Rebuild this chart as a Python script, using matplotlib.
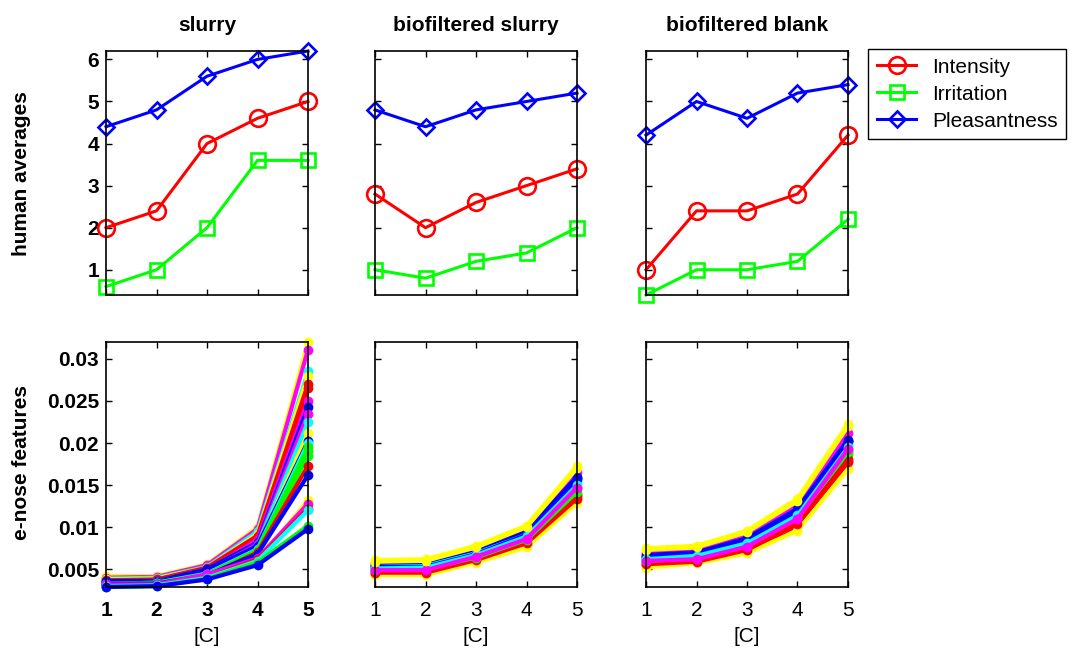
import matplotlib
matplotlib.use('Agg')
import matplotlib.pyplot as plt

plt.rcParams['font.family'] = ['Liberation Sans', 'DejaVu Sans']

# concentration steps
conc = [1, 2, 3, 4, 5]
titles = ['slurry', 'biofiltered slurry', 'biofiltered blank']

# human panel averages (top row)
intensity_slurry = [2.0, 2.4, 4.0, 4.6, 5.0]
irritation_slurry = [0.6, 1.0, 2.0, 3.6, 3.6]
pleasant_slurry = [4.4, 4.8, 5.6, 6.0, 6.2]

intensity_bslurry = [2.8, 2.0, 2.6, 3.0, 3.4]
irritation_bslurry = [1.0, 0.8, 1.2, 1.4, 2.0]
pleasant_bslurry = [4.8, 4.4, 4.8, 5.0, 5.2]

intensity_bblank = [1.0, 2.4, 2.4, 2.8, 4.2]
irritation_bblank = [0.4, 1.0, 1.0, 1.2, 2.2]
pleasant_bblank = [4.2, 5.0, 4.6, 5.2, 5.4]

# e-nose features (bottom row), one colour per feature line
colors_slurry = ['y', 'm', 'c', 'y', 'r', 'r', 'm', 'b', 'm', 'c', 'y', 'b',
                 'c', 'g', 'g', 'g', 'r', 'b', 'y', 'm', 'r', 'c', 'g', 'b']
feat_slurry = [
    [0.0042, 0.0042, 0.0056, 0.0100, 0.0320],
    [0.0040, 0.0041, 0.0055, 0.0098, 0.0311],
    [0.0039, 0.0040, 0.0053, 0.0095, 0.0285],
    [0.0038, 0.0039, 0.0052, 0.0092, 0.0280],
    [0.0037, 0.0038, 0.0052, 0.0090, 0.0270],
    [0.0036, 0.0037, 0.0050, 0.0088, 0.0265],
    [0.0035, 0.0036, 0.0049, 0.0085, 0.0250],
    [0.0036, 0.0036, 0.0050, 0.0082, 0.0243],
    [0.0034, 0.0035, 0.0047, 0.0080, 0.0235],
    [0.0034, 0.0035, 0.0046, 0.0078, 0.0225],
    [0.0033, 0.0034, 0.0045, 0.0075, 0.0212],
    [0.0035, 0.0035, 0.0048, 0.0078, 0.0202],
    [0.0033, 0.0034, 0.0045, 0.0074, 0.0200],
    [0.0033, 0.0034, 0.0044, 0.0073, 0.0195],
    [0.0032, 0.0033, 0.0044, 0.0072, 0.0190],
    [0.0032, 0.0033, 0.0043, 0.0070, 0.0185],
    [0.0031, 0.0032, 0.0042, 0.0070, 0.0173],
    [0.0033, 0.0033, 0.0043, 0.0068, 0.0162],
    [0.0029, 0.0030, 0.0038, 0.0060, 0.0132],
    [0.0032, 0.0032, 0.0044, 0.0063, 0.0128],
    [0.0030, 0.0031, 0.0040, 0.0062, 0.0122],
    [0.0030, 0.0031, 0.0040, 0.0060, 0.0120],
    [0.0029, 0.0030, 0.0039, 0.0058, 0.0102],
    [0.0029, 0.0030, 0.0038, 0.0055, 0.0098],
]

colors_bslurry = ['r', 'g', 'b', 'c', 'm', 'y', 'r', 'g', 'b',
                  'c', 'm', 'y', 'r', 'g', 'b', 'c', 'm', 'y']
feat_bslurry = [
    [0.0045, 0.0046, 0.0060, 0.0080, 0.0136],
    [0.0048, 0.0049, 0.0063, 0.0084, 0.0140],
    [0.0054, 0.0055, 0.0070, 0.0093, 0.0158],
    [0.0052, 0.0053, 0.0068, 0.0090, 0.0152],
    [0.0057, 0.0058, 0.0074, 0.0098, 0.0165],
    [0.0061, 0.0062, 0.0078, 0.0102, 0.0173],
    [0.0047, 0.0047, 0.0062, 0.0082, 0.0138],
    [0.0050, 0.0051, 0.0065, 0.0087, 0.0145],
    [0.0055, 0.0056, 0.0071, 0.0095, 0.0160],
    [0.0053, 0.0054, 0.0069, 0.0091, 0.0155],
    [0.0050, 0.0051, 0.0066, 0.0088, 0.0148],
    [0.0043, 0.0043, 0.0058, 0.0076, 0.0129],
    [0.0046, 0.0046, 0.0061, 0.0081, 0.0134],
    [0.0049, 0.0050, 0.0064, 0.0085, 0.0142],
    [0.0053, 0.0053, 0.0068, 0.0091, 0.0157],
    [0.0051, 0.0052, 0.0067, 0.0089, 0.0150],
    [0.0049, 0.0049, 0.0065, 0.0086, 0.0147],
    [0.0059, 0.0060, 0.0076, 0.0100, 0.0170],
]

colors_bblank = ['r', 'g', 'b', 'c', 'm', 'y', 'r', 'g', 'b',
                 'c', 'm', 'y', 'r', 'g', 'b', 'c', 'm', 'y']
feat_bblank = [
    [0.0055, 0.0059, 0.0072, 0.0102, 0.0179],
    [0.0060, 0.0063, 0.0077, 0.0110, 0.0187],
    [0.0066, 0.0069, 0.0086, 0.0120, 0.0202],
    [0.0063, 0.0067, 0.0082, 0.0115, 0.0197],
    [0.0069, 0.0072, 0.0090, 0.0126, 0.0212],
    [0.0075, 0.0078, 0.0096, 0.0134, 0.0223],
    [0.0057, 0.0060, 0.0074, 0.0105, 0.0181],
    [0.0061, 0.0064, 0.0079, 0.0112, 0.0189],
    [0.0067, 0.0070, 0.0087, 0.0122, 0.0204],
    [0.0064, 0.0067, 0.0083, 0.0116, 0.0199],
    [0.0061, 0.0063, 0.0078, 0.0111, 0.0193],
    [0.0052, 0.0057, 0.0069, 0.0096, 0.0169],
    [0.0056, 0.0059, 0.0073, 0.0104, 0.0177],
    [0.0060, 0.0063, 0.0078, 0.0111, 0.0190],
    [0.0065, 0.0069, 0.0085, 0.0119, 0.0203],
    [0.0062, 0.0066, 0.0081, 0.0114, 0.0195],
    [0.0060, 0.0062, 0.0077, 0.0110, 0.0193],
    [0.0073, 0.0076, 0.0094, 0.0131, 0.0220],
]

human = [
    (intensity_slurry, irritation_slurry, pleasant_slurry),
    (intensity_bslurry, irritation_bslurry, pleasant_bslurry),
    (intensity_bblank, irritation_bblank, pleasant_bblank),
]
enose = [(colors_slurry, feat_slurry), (colors_bslurry, feat_bslurry),
         (colors_bblank, feat_bblank)]

W, H = 1075, 651
fig = plt.figure(figsize=(W / 100, H / 100), dpi=100, facecolor='w')

def px_axes(x0, y0, x1, y1):
    return fig.add_axes([x0 / W, 1 - y1 / H, (x1 - x0) / W, (y1 - y0) / H])

lefts = [106, 375, 646]
width = 202
red, green, blue = '#ff0000', '#00ff00', '#0000ff'
cmap = {'r': '#ff0000', 'g': '#00ff00', 'b': '#0000ff',
        'c': '#00ffff', 'm': '#ff00ff', 'y': '#ffff00'}

def style(ax, bold):
    for s in ax.spines.values():
        s.set_linewidth(1.2)
    ax.tick_params(direction='in', top=True, right=True, length=4, width=1,
                   labelsize=15)
    ax.tick_params(axis='x', pad=10)
    ax.tick_params(axis='y', pad=5)
    if bold:
        for lbl in ax.get_xticklabels() + ax.get_yticklabels():
            lbl.set_fontweight('bold')

handles = []
for i in range(3):
    x0 = lefts[i]
    # top row: human averages
    ax = px_axes(x0, 51, x0 + width, 295)
    inten, irrit, pleas = human[i]
    h1, = ax.plot(conc, inten, '-o', color=red, lw=2.2, ms=12, mew=1.9,
                  mfc='none', clip_on=False, label='Intensity')
    h2, = ax.plot(conc, irrit, '-s', color=green, lw=2.2, ms=10, mew=1.9,
                  mfc='none', clip_on=False, label='Irritation')
    h3, = ax.plot(conc, pleas, '-D', color=blue, lw=2.2, ms=8.5, mew=1.9,
                  mfc='none', clip_on=False, label='Pleasantness')
    handles = [h1, h2, h3]
    ax.set_xlim(1, 5)
    ax.set_ylim(0.4, 6.2)
    ax.set_xticks(conc)
    ax.set_xticklabels([])
    ax.set_yticks([1, 2, 3, 4, 5, 6])
    if i > 0:
        ax.set_yticklabels([])
    style(ax, i == 0)

    # bottom row: e-nose features
    ax = px_axes(x0, 342, x0 + width, 587)
    cols, feats = enose[i]
    for c, f in zip(cols, feats):
        ax.plot(conc, f, '-o', color=cmap[c], lw=3, ms=7, mew=0,
                clip_on=False)
    ax.set_xlim(1, 5)
    ax.set_ylim(0.0029, 0.032)
    ax.set_xticks(conc)
    ax.set_yticks([0.005, 0.01, 0.015, 0.02, 0.025, 0.03])
    if i == 0:
        ax.set_yticklabels(['0.005', '0.01', '0.015', '0.02', '0.025', '0.03'])
    else:
        ax.set_yticklabels([])
    style(ax, i == 0)

    cx = (x0 + width / 2) / W
    fig.text(cx, 1 - 31 / H, titles[i], ha='center', va='baseline',
             fontsize=15, fontweight='bold')
    fig.text(cx, 1 - 637 / H, '[C]', ha='center', va='center', fontsize=15)

fig.text(22 / W, 1 - 174 / H, 'human averages', rotation=90, ha='center',
         va='center', fontsize=15, fontweight='bold')
fig.text(22 / W, 1 - 463 / H, 'e-nose features', rotation=90, ha='center',
         va='center', fontsize=15, fontweight='bold')

leg = fig.legend(handles, ['Intensity', 'Irritation', 'Pleasantness'],
                 loc='upper left', bbox_to_anchor=(868 / W, 1 - 49 / H),
                 fontsize=15, frameon=True, fancybox=False, edgecolor='k',
                 framealpha=1, handlelength=1.9, handletextpad=0.75,
                 borderpad=0.42, labelspacing=0.38, borderaxespad=0)
leg.get_frame().set_linewidth(1.0)

fig.savefig('out.png', dpi=100, facecolor='w')
